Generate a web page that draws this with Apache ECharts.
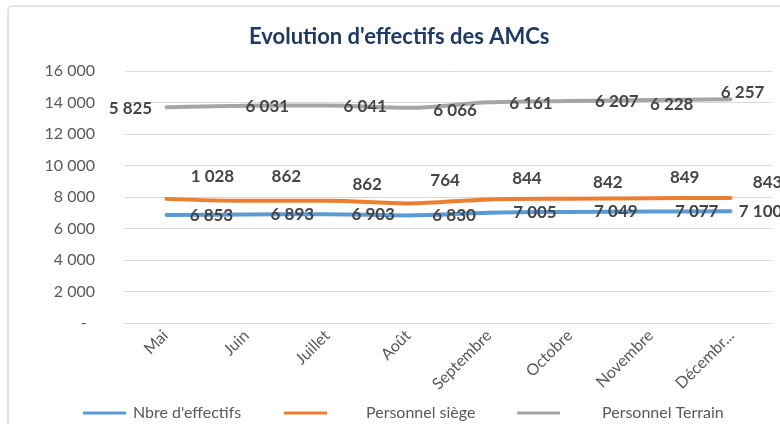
<!DOCTYPE html>
<html>
<head>
<meta charset="utf-8">
<script src="https://cdn.jsdelivr.net/npm/echarts@6/dist/echarts.min.js"></script>
<style>
  html, body { margin: 0; padding: 0; background: #fff; }
  #chart { width: 780px; height: 424px; }
</style>
</head>
<body>
<div id="chart"></div>
<script>
// data
const months = ['Mai', 'Juin', 'Juillet', 'Août', 'Septembre', 'Octobre', 'Novembre', 'Décembr...'];
const effectifs = [6853, 6893, 6903, 6830, 7005, 7049, 7077, 7100];
const siege = [1028, 862, 862, 764, 844, 842, 849, 843];
const terrain = [5825, 6031, 6041, 6066, 6161, 6207, 6228, 6257];
const yTicks = [0, 2000, 4000, 6000, 8000, 10000, 12000, 14000, 16000];

// label nudges (px) so labels sit where Excel put them
const blueNudge = [[46, 0], [46, 0], [46, 0], [46, 0], [46, 0], [46, 0], [46, 0], [29, 0]];
const orangeNudge = [[47, -22], [40, -24], [40, -16], [37, -23], [38, -21], [38, -16], [34, -21], [36, -15]];
const grayNudge = [[-35, 1], [21, 1], [38, 1], [47, 3], [42, 1], [47, 1], [21, 4], [11, -7]];

function fmt(v) {
  return String(v).replace(/\B(?=(\d{3})+(?!\d))/g, ' ');
}

function withLabels(values, nudges) {
  return values.map(function (v, i) {
    return { value: v, label: { offset: nudges[i] } };
  });
}

const labelStyle = {
  show: true,
  position: 'inside',
  formatter: function (p) { return fmt(p.value); },
  fontFamily: 'Lato',
  fontWeight: 'bold',
  fontSize: 17,
  color: '#454545'
};

function lineSeries(name, values, nudges, color) {
  return {
    name: name,
    type: 'line',
    stack: 'total',
    smooth: 0.35,
    symbol: 'circle',
    symbolSize: 2,
    itemStyle: { color: color },
    lineStyle: { color: color, width: 4 },
    label: labelStyle,
    data: withLabels(values, nudges)
  };
}

function legendAt(name, left, textGap) {
  return {
    data: [name],
    left: left,
    top: 400,
    itemWidth: 43,
    itemHeight: 3,
    icon: 'rect',
    textStyle: {
      fontFamily: 'Lato',
      fontSize: 16,
      color: '#595959',
      padding: [0, 0, 0, textGap]
    }
  };
}

const chart = echarts.init(document.getElementById('chart'), null, { renderer: 'canvas' });

chart.setOption({
  animation: false,
  backgroundColor: '#fff',
  title: {
    text: "Evolution d'effectifs des AMCs",
    left: 244,
    top: 21,
    textStyle: {
      fontFamily: 'Lato',
      fontWeight: 'bold',
      fontSize: 22,
      color: '#1f3864'
    }
  },
  graphic: [{
    type: 'rect',
    shape: { x: 8, y: 6, width: 820, height: 440, r: 4 },
    style: { fill: 'none', stroke: '#dcdcdc', lineWidth: 1.5 },
    silent: true,
    z: -1
  }],
  legend: [
    legendAt("Nbre d'effectifs", 78, 2),
    legendAt('Personnel siège', 279, 34),
    legendAt('Personnel Terrain', 512, 37)
  ],
  grid: { left: 125, right: 8, top: 71, bottom: 101 },
  xAxis: {
    type: 'category',
    data: months,
    boundaryGap: true,
    axisLine: { show: false },
    axisTick: { show: false },
    axisLabel: {
      rotate: 45,
      margin: 10,
      fontFamily: 'Lato',
      fontSize: 16,
      color: '#595959'
    }
  },
  yAxis: {
    type: 'value',
    min: yTicks[0],
    max: yTicks[yTicks.length - 1],
    interval: yTicks[1] - yTicks[0],
    axisLine: { show: false },
    axisTick: { show: false },
    splitLine: { lineStyle: { color: '#d9d9d9', width: 1 } },
    axisLabel: {
      margin: 30,
      fontFamily: 'Lato',
      fontSize: 16,
      color: '#595959',
      formatter: function (v) { return v === 0 ? '-  ' : fmt(v); }
    }
  },
  series: [
    lineSeries("Nbre d'effectifs", effectifs, blueNudge, '#5b9bd5'),
    lineSeries('Personnel siège', siege, orangeNudge, '#ed7d31'),
    lineSeries('Personnel Terrain', terrain, grayNudge, '#a5a5a5')
  ]
});
</script>
</body>
</html>
